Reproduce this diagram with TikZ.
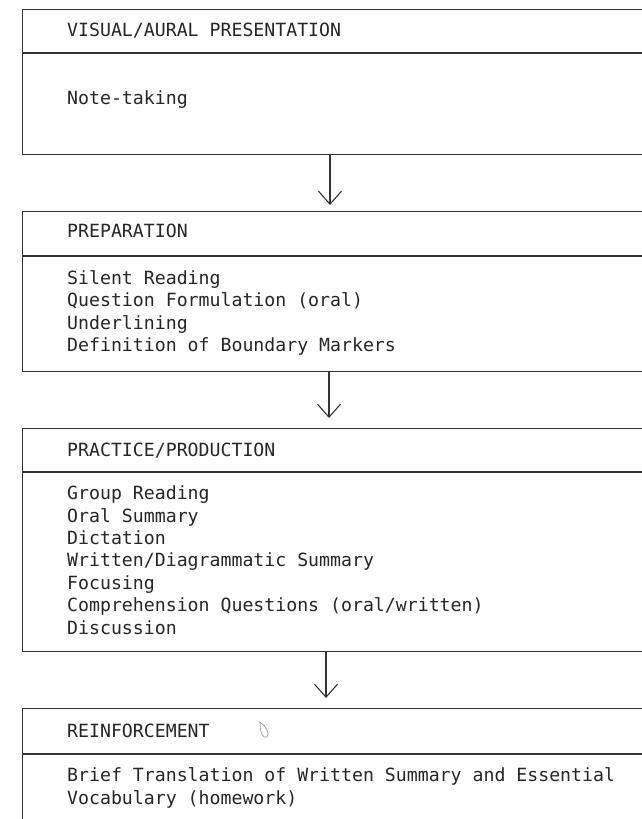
\documentclass[tikz,border=0pt]{standalone}
\usepackage{fontspec}
\newfontfamily\twfont{DejaVu Sans Mono}
\usetikzlibrary{arrows.meta}
\begin{document}
\begin{tikzpicture}[x=1pt,y=-1pt,
  boxframe/.style={draw=black!80, line width=1.1pt, rectangle, inner sep=0pt,
    minimum width=700pt, anchor=north west},
  divline/.style={draw=black!80, line width=1.1pt},
  txt/.style={anchor=base west, inner sep=0pt, text=black!85,
    font=\twfont\fontsize{18.2}{22.5}\selectfont},
  flowarrow/.style={draw=black!80, line width=1.1pt,
    -{Straight Barb[length=13pt,width=23pt,line width=1.1pt]}},
  smudge/.style={draw=black!45, line width=0.6pt}]
\useasboundingbox (0,0) rectangle (641,819);
\fill[white] (0,0) rectangle (641,819);

% boxes
\node[boxframe, minimum height=145pt] (box1) at (22,9) {};
\node[boxframe, minimum height=160pt] (box2) at (22,211) {};
\node[boxframe, minimum height=223pt] (box3) at (22,428) {};
\node[boxframe, minimum height=111pt] (box4) at (22,708) {};

% header dividers
\draw[divline] ([yshift=-44pt]box1.north west) -- ([yshift=-44pt]box1.north east);
\draw[divline] ([yshift=-45pt]box2.north west) -- ([yshift=-45pt]box2.north east);
\draw[divline] ([yshift=-44pt]box3.north west) -- ([yshift=-44pt]box3.north east);
\draw[divline] ([yshift=-46pt]box4.north west) -- ([yshift=-46pt]box4.north east);

% texts
\node[txt] (h1) at (67,36.7) {VISUAL/AURAL PRESENTATION};
\node[txt] (t11) at (67,104.3) {Note-taking};

\node[txt] (h2) at (67,237.7) {PREPARATION};
\node[txt] (t21) at (67,284.3) {Silent Reading};
\node[txt] (t22) at (67,306.7) {Question Formulation (oral)};
\node[txt] (t23) at (67,329.1) {Underlining};
\node[txt] (t24) at (67,351.5) {Definition of Boundary Markers};

\node[txt] (h3) at (67,456) {PRACTICE/PRODUCTION};
\node[txt] (t31) at (67,499.7) {Group Reading};
\node[txt] (t32) at (67,522.1) {Oral Summary};
\node[txt] (t33) at (67,544.5) {Dictation};
\node[txt] (t34) at (67,566.9) {Written/Diagrammatic Summary};
\node[txt] (t35) at (67,589.3) {Focusing};
\node[txt] (t36) at (67,611.7) {Comprehension Questions (oral/written)};
\node[txt] (t37) at (67,634.1) {Discussion};

\node[txt] (h4) at (67,737.5) {REINFORCEMENT};
\node[txt] (t41) at (67,781) {Brief Translation of Written Summary and Essential};
\node[txt] (t42) at (67,804) {Vocabulary (homework)};

% arrows
\coordinate (ax1) at (330,0);
\coordinate (ax2) at (329,0);
\coordinate (ax3) at (326,0);
\coordinate (tp1) at ([yshift=6pt]box2.north);
\coordinate (tp2) at ([yshift=10pt]box3.north);
\coordinate (tp3) at ([yshift=10pt]box4.north);
\draw[flowarrow] (box1.south -| ax1) -- (tp1 -| ax1);
\draw[flowarrow] (box2.south -| ax2) -- (tp2 -| ax2);
\draw[flowarrow] (box3.south -| ax3) -- (tp3 -| ax3);

% small stray mark after REINFORCEMENT
\draw[smudge] (260,722) .. controls (266,726) and (270,734) .. (267,737)
  .. controls (263,739) and (260,733) .. cycle;
\end{tikzpicture}
\end{document}
